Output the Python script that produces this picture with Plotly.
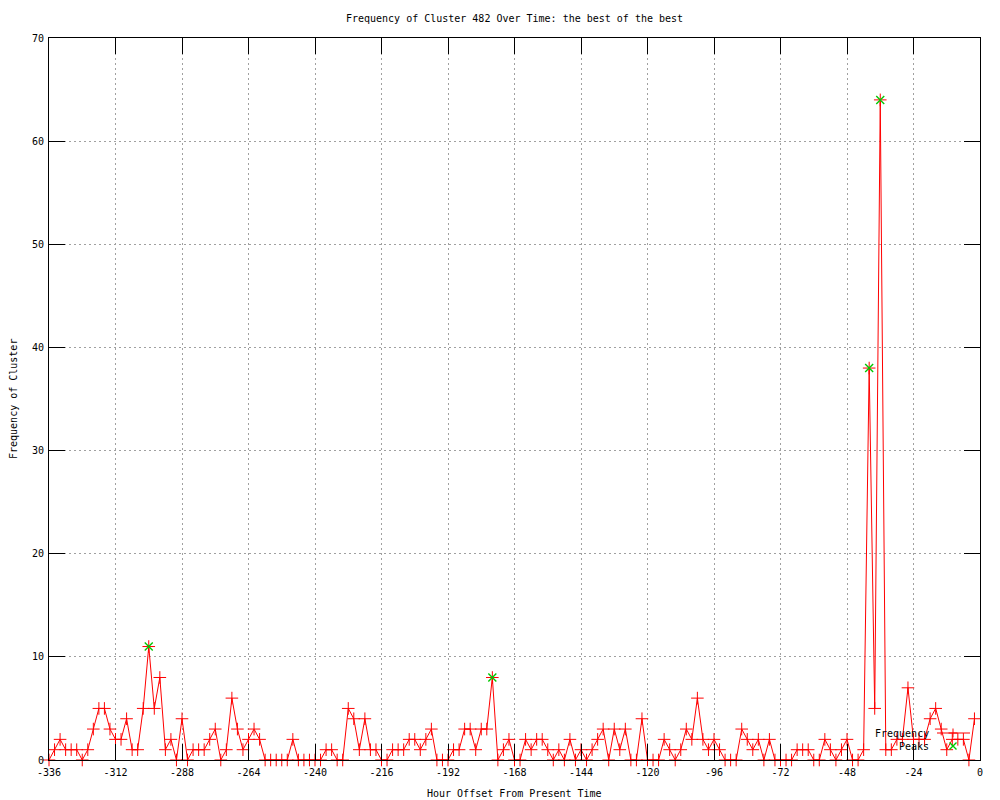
import plotly.graph_objects as go

# Hour offsets (every 2 hours from -336 to -2)
hours = list(range(-336, 0, 2))

# Frequency of cluster per 2-hour bucket
frequency = [
    0, 1, 2, 1, 1, 1, 0, 1, 3, 5, 5, 3,
    2, 2, 4, 1, 1, 5, 11, 5, 8, 1, 2, 0,
    4, 0, 1, 1, 1, 2, 3, 0, 1, 6, 3, 1,
    2, 3, 2, 0, 0, 0, 0, 0, 2, 0, 0, 0,
    0, 0, 1, 1, 0, 0, 5, 4, 1, 4, 1, 1,
    0, 0, 1, 1, 1, 2, 2, 1, 2, 3, 0, 0,
    0, 1, 1, 3, 3, 1, 3, 3, 8, 0, 1, 2,
    0, 0, 2, 1, 2, 2, 1, 0, 1, 0, 2, 0,
    1, 0, 1, 2, 3, 0, 3, 1, 3, 0, 0, 4,
    0, 0, 0, 2, 1, 0, 1, 3, 2, 6, 2, 1,
    2, 1, 0, 0, 0, 3, 2, 1, 2, 0, 2, 0,
    0, 0, 0, 1, 1, 1, 0, 0, 2, 1, 0, 1,
    2, 0, 0, 1, 38, 5, 64, 1, 1, 2, 2, 7,
    2, 2, 2, 4, 5, 3, 1, 2, 2, 2, 0, 4,
]

# Detected peaks
peak_hours = [-300, -176, -40, -36]
peak_values = [11, 8, 38, 64]

x_ticks = list(range(-336, 1, 24))
y_ticks = list(range(0, 71, 10))

FONT = "DejaVu Sans Mono"
RED = "#ff0000"
GREEN = "#00c800"
GRID = "#a0a0a0"

fig = go.Figure()

fig.add_trace(go.Scatter(
    x=hours, y=frequency, mode="lines+markers", name="Frequency",
    line=dict(color=RED, width=1),
    marker=dict(symbol="cross-thin", size=9, line=dict(color=RED, width=1), color=RED),
    cliponaxis=False, showlegend=False,
))

fig.add_trace(go.Scatter(
    x=peak_hours, y=peak_values, mode="markers", name="Peaks",
    marker=dict(symbol="x-thin", size=8, line=dict(color=GREEN, width=1.4), color=GREEN),
    cliponaxis=False, showlegend=False,
))

axis_common = dict(
    showline=True, linecolor="black", linewidth=1, mirror="ticks",
    ticks="inside", ticklen=16, tickwidth=1, tickcolor="black",
    showgrid=True, gridcolor=GRID, griddash="2px,3px", gridwidth=1,
    zeroline=False,
    tickfont=dict(family=FONT, size=10, color="black"),
)

fig.update_xaxes(range=[-336, 0], tickmode="array", tickvals=x_ticks,
                 ticktext=[str(v) for v in x_ticks], ticklabelstandoff=3, **axis_common)
fig.update_yaxes(range=[0, 70], tickmode="array", tickvals=y_ticks,
                 ticktext=[str(v) for v in y_ticks], ticklabelstandoff=2, **axis_common)

# page is offset by the default 8px body margin
OFF = 8
W, H = 992, 792
L, T, R, B = 41, 30, 20, 40
pw, ph = W - L - R, H - T - B

def px_x(p):
    return (p - OFF - L) / pw

def px_y(p):
    return (H - B - (p - OFF)) / ph

annotations = [
    dict(text="Hour Offset From Present Time", xref="paper", yref="paper",
         x=0.5, y=0, yshift=-33, showarrow=False, yanchor="middle",
         font=dict(family=FONT, size=10, color="black")),
    dict(text="Frequency of Cluster", xref="paper", yref="paper",
         x=0, xshift=-36, y=0.5, showarrow=False, textangle=-90,
         xanchor="center", yanchor="middle",
         font=dict(family=FONT, size=10, color="black")),
    # legend texts
    dict(text="Frequency", xref="paper", yref="paper", x=px_x(931), y=px_y(733),
         xanchor="right", yanchor="middle", showarrow=False,
         font=dict(family=FONT, size=10, color="black")),
    dict(text="Peaks", xref="paper", yref="paper", x=px_x(931), y=px_y(746),
         xanchor="right", yanchor="middle", showarrow=False,
         font=dict(family=FONT, size=10, color="black")),
]

shapes = [
    dict(type="line", xref="paper", yref="paper", x0=px_x(937), x1=px_x(970),
         y0=px_y(733), y1=px_y(733), line=dict(color=RED, width=1)),
    dict(type="path", xref="paper", yref="paper", xsizemode="pixel", ysizemode="pixel",
         xanchor=px_x(953), yanchor=px_y(733),
         path="M-4.5,0 L4.5,0 M0,-4.5 L0,4.5", line=dict(color=RED, width=1)),
    dict(type="path", xref="paper", yref="paper", xsizemode="pixel", ysizemode="pixel",
         xanchor=px_x(953), yanchor=px_y(746),
         path="M-3.5,-3.5 L3.5,3.5 M-3.5,3.5 L3.5,-3.5", line=dict(color=GREEN, width=1.4)),
]

fig.update_layout(
    width=W, height=H,
    margin=dict(l=L, r=R, t=T, b=B),
    paper_bgcolor="white", plot_bgcolor="white",
    title=dict(text="Frequency of Cluster 482 Over Time: the best of the best",
               x=(514.5 - OFF) / W, xref="container", xanchor="center",
               y=1 - (18 - OFF) / H, yref="container", yanchor="middle",
               font=dict(family=FONT, size=10, color="black")),
    showlegend=False,
    annotations=annotations,
    shapes=shapes,
)

fig.write_html("out.html")
